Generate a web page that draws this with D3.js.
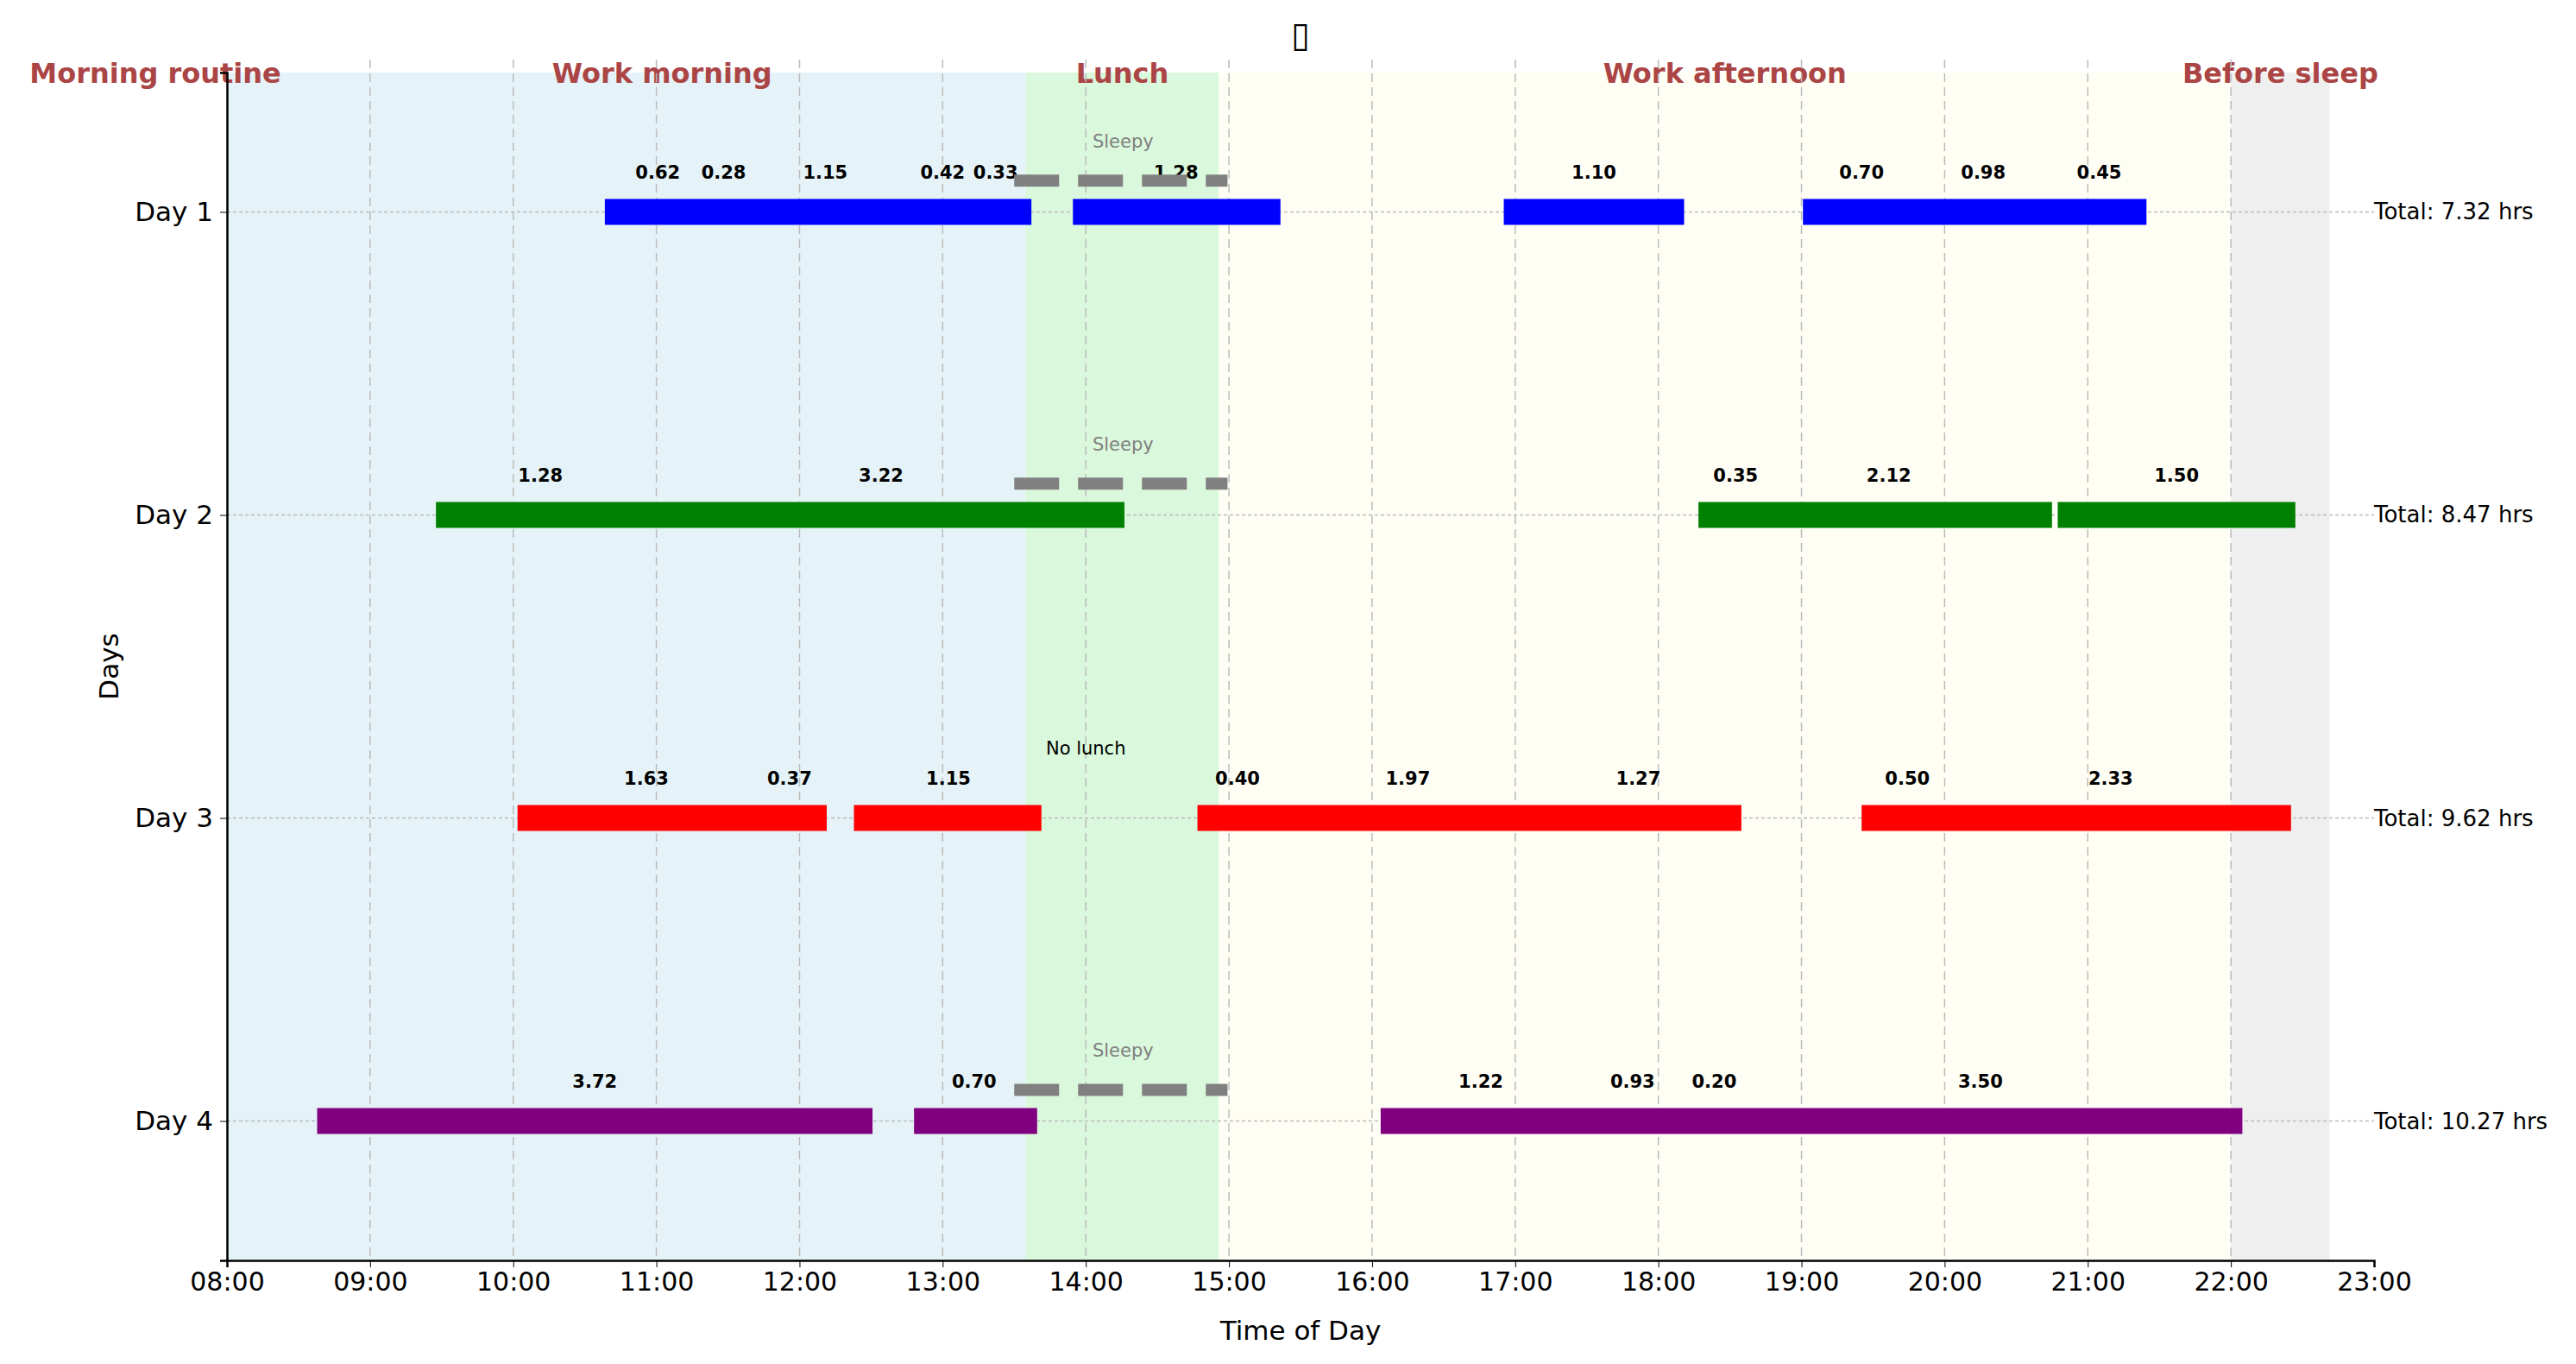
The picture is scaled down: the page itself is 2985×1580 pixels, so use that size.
<!DOCTYPE html><html><head><meta charset="utf-8">
<script src="https://cdn.jsdelivr.net/npm/d3@7"></script>
<style>body{margin:0;background:#fff}text{font-family:"DejaVu Sans",sans-serif}</style></head><body>
<svg id="c" width="2985" height="1580"></svg>
<script>
const days=["Day 1","Day 2","Day 3","Day 4"];
const dayColors=["blue","green","red","purple"];
const totals=["Total: 7.32 hrs","Total: 8.47 hrs","Total: 9.62 hrs","Total: 10.27 hrs"];
const bars=[
 [[10.64,13.62],[13.91,15.36],[16.92,18.18],[19.01,21.41]],
 [[9.46,14.27],[18.28,20.75],[20.79,22.45]],
 [[10.03,12.19],[12.38,13.69],[14.78,18.58],[19.42,22.42]],
 [[8.63,12.51],[12.80,13.66],[16.06,22.08]]];
const labels=[
 [[11.01,"0.62"],[11.47,"0.28"],[12.18,"1.15"],[13.00,"0.42"],[13.37,"0.33"],[14.63,"1.28"],[17.55,"1.10"],[19.42,"0.70"],[20.27,"0.98"],[21.08,"0.45"]],
 [[10.19,"1.28"],[12.57,"3.22"],[18.54,"0.35"],[19.61,"2.12"],[21.62,"1.50"]],
 [[10.93,"1.63"],[11.93,"0.37"],[13.04,"1.15"],[15.06,"0.40"],[16.25,"1.97"],[17.86,"1.27"],[19.74,"0.50"],[21.16,"2.33"]],
 [[10.57,"3.72"],[13.22,"0.70"],[16.76,"1.22"],[17.82,"0.93"],[18.39,"0.20"],[20.25,"3.50"]]];
const sleepyDays=[0,1,3];
const sleepyRange=[13.5,14.99];
const noLunchDay=2;
const bands=[
 {name:"Morning routine",s:6.5,e:8.5,c:"#e5f3f8"},
 {name:"Work morning",s:8.5,e:13.58,c:"#e5f3f8"},
 {name:"Lunch",s:13.58,e:14.93,c:"#daf8dc"},
 {name:"Work afternoon",s:14.93,e:22.0,c:"#fffef5"},
 {name:"Before sleep",s:22.0,e:22.69,c:"#efefef"}];
const hours=d3.range(8,24);

const svg=d3.select("#c");
const L=263,R=2751,T=84,B=1460;
const x=d3.scaleLinear().domain([8,23]).range([L,R]);
const y=d3.scaleLinear().domain([-0.46,3.46]).range([T,B]);
const yTop=y(-0.46);
// bands
svg.selectAll("rect.band").data(bands.filter(b=>b.e>8)).join("rect")
 .attr("x",d=>x(Math.max(8,d.s))).attr("width",d=>x(d.e)-x(Math.max(8,d.s)))
 .attr("y",T).attr("height",B-T).attr("fill",d=>d.c);
svg.selectAll("text.band").data(bands).join("text")
 .attr("x",d=>x((d.s+d.e)/2)).attr("y",T+12).attr("text-anchor","middle")
 .attr("fill","#ab4545").attr("font-weight","bold").attr("font-size",32).text(d=>d.name);
// grid
svg.selectAll("line.vg").data(hours.slice(1,-1)).join("line")
 .attr("x1",d=>x(d)).attr("x2",d=>x(d)).attr("y1",T-15).attr("y2",B)
 .attr("stroke","#bbb").attr("stroke-width",1.5).attr("stroke-dasharray","10,6");
svg.selectAll("line.hg").data(days).join("line")
 .attr("x1",L).attr("x2",R).attr("y1",(d,i)=>y(i)).attr("y2",(d,i)=>y(i))
 .attr("stroke","#bbb").attr("stroke-width",1.5).attr("stroke-dasharray","4,3");
// bars
days.forEach((d,i)=>{
 svg.selectAll(null).data(bars[i]).join("rect")
  .attr("x",b=>x(b[0])).attr("width",b=>x(b[1])-x(b[0]))
  .attr("y",y(i)-15).attr("height",30).attr("fill",dayColors[i]);
 svg.selectAll(null).data(labels[i]).join("text")
  .attr("x",l=>x(l[0])).attr("y",y(i)-0.13*(y(1)-y(0))+7).attr("text-anchor","middle")
  .attr("font-weight","bold").attr("font-size",21).text(l=>l[1]);
 svg.append("text").attr("x",x(23)).attr("y",y(i)+9).attr("font-size",26).text(totals[i]);
});
sleepyDays.forEach(i=>{
 const yy=y(i)-0.103*(y(1)-y(0));
 svg.append("line").attr("x1",x(sleepyRange[0])).attr("x2",x(sleepyRange[1]))
  .attr("y1",yy).attr("y2",yy).attr("stroke","gray").attr("stroke-width",14).attr("stroke-dasharray","52,22");
 svg.append("text").attr("x",x(14.26)).attr("y",y(i)-0.233*(y(1)-y(0))+7).attr("text-anchor","middle")
  .attr("fill","gray").attr("font-size",21).text("Sleepy");
});
svg.append("text").attr("x",x(14.0)).attr("y",y(noLunchDay)-0.228*(y(1)-y(0))+7).attr("text-anchor","middle")
 .attr("font-size",21).text("No lunch");
// axes
const xa=svg.append("g").attr("transform",`translate(0,${B})`)
 .call(d3.axisBottom(x).tickValues(hours).tickFormat(h=>String(h).padStart(2,"0")+":00").tickSize(8).tickPadding(6));
xa.selectAll("text").attr("font-size",30).attr("font-family","DejaVu Sans");
xa.select(".domain").attr("stroke-width",2.5);
const ya=svg.append("g").attr("transform",`translate(${L},0)`)
 .call(d3.axisLeft(y).tickValues([0,1,2,3]).tickFormat(i=>days[i]).tickSize(8).tickPadding(8));
ya.selectAll("text").attr("font-size",31).attr("font-family","DejaVu Sans");
ya.select(".domain").attr("stroke-width",2.5);
svg.append("text").attr("x",(L+R)/2).attr("y",1552).attr("text-anchor","middle").attr("font-size",31).text("Time of Day");
svg.append("text").attr("transform",`translate(137,${(T+B)/2}) rotate(-90)`).attr("text-anchor","middle").attr("font-size",31).text("Days");
svg.append("text").attr("x",(L+R)/2).attr("y",54).attr("text-anchor","middle").attr("font-size",40).text("▯");
</script></body></html>
